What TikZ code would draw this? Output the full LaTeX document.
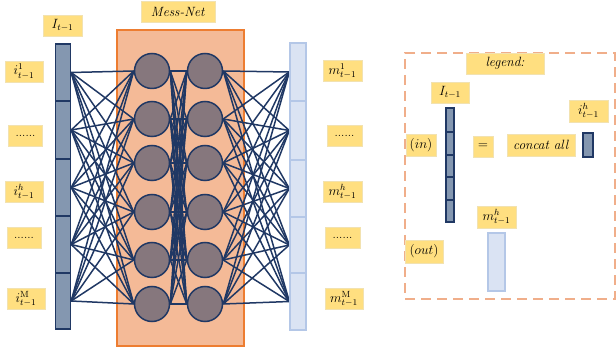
\documentclass[tikz,border=0pt]{standalone}
\usepackage{graphicx}
\usepackage{amsmath}
\definecolor{navy}{HTML}{203864}
\definecolor{tagfill}{HTML}{FFDF80}
\definecolor{tagedge}{HTML}{F2E2B0}
\definecolor{netfill}{HTML}{F4BA97}
\definecolor{netedge}{HTML}{ED7D31}
\definecolor{neuron}{HTML}{86777D}
\definecolor{infill}{HTML}{8497B0}
\definecolor{outfill}{HTML}{DAE3F3}
\definecolor{outedge}{HTML}{B4C7E7}
\definecolor{legedge}{HTML}{F0AE8A}
\pgfdeclarelayer{netlayer}
\pgfdeclarelayer{linklayer}
\pgfsetlayers{netlayer,linklayer,main}
% label text, set a little larger than 12pt
\newcommand{\tagtxt}[1]{\scalebox{1.12}{#1}}
\tikzset{
  tag/.style={fill=tagfill, draw=tagedge, line width=0.6pt, inner sep=0pt,
    minimum height=21pt, font=\fontsize{12}{14}\selectfont},
  inseg/.style={fill=infill, draw=navy, line width=1.4pt, inner sep=0pt,
    minimum width=15pt},
  outseg/.style={fill=outfill, draw=outedge, line width=1.4pt, inner sep=0pt,
    minimum width=16pt},
  unit/.style={circle, fill=neuron, draw=navy, line width=1.5pt,
    minimum size=35pt, inner sep=0pt},
  link/.style={draw=navy, line width=1.5pt}
}
\begin{document}
\begin{tikzpicture}[x=1pt, y=-1pt]
\useasboundingbox (0,0) rectangle (616,352);

% Mess-Net block
\begin{pgfonlayer}{netlayer}
\node[fill=netfill, draw=netedge, line width=1.6pt, minimum width=127pt,
  minimum height=316pt, inner sep=0pt] (net) at (180.5,188) {};
\end{pgfonlayer}
\node[tag, minimum width=74pt] (netname) at (178,12) {\tagtxt{\textit{Mess-Net}}};

% input vector I_{t-1}
\node[tag, minimum width=39pt] (Iname) at (62.5,25.5) {\tagtxt{$I_{t-1}$}};
\node[inseg, minimum height=57pt] (in1) at (63,72.5) {};
\node[inseg, minimum height=58pt] (in2) at (63,130) {};
\node[inseg, minimum height=57pt] (in3) at (63,187.5) {};
\node[inseg, minimum height=57pt] (in4) at (63,244.5) {};
\node[inseg, minimum height=56pt] (in5) at (63,301) {};

% output vector
\node[outseg, minimum height=58pt] (out1) at (298,72) {};
\node[outseg, minimum height=59pt] (out2) at (298,130.5) {};
\node[outseg, minimum height=57pt] (out3) at (298,188.5) {};
\node[outseg, minimum height=56pt] (out4) at (298,245) {};
\node[outseg, minimum height=57pt] (out5) at (298,301.5) {};

% hidden units
\foreach \k/\yy in {1/71,2/119,3/163,4/212,5/260,6/304} {
  \node[unit] (a\k) at (152,\yy) {};
  \node[unit] (b\k) at (205,\yy) {};
}

% fully connected links, kept under the units
\begin{pgfonlayer}{linklayer}
\foreach \k in {1,...,6} {
  \foreach \j in {1,...,5} {
    \draw[link] (in\j.east) -- (a\k.west);
    \draw[link] (b\k.east) -- (out\j.west);
  }
  \foreach \j in {1,...,6} {
    \draw[link] (a\k.east) -- (b\j.west);
  }
}
\end{pgfonlayer}

% input labels
\node[tag, minimum width=38pt] (i1) at (24,71.5) {\tagtxt{$i^{1}_{t-1}$}};
\node[tag, minimum width=34pt] (idots1) at (25.5,135.5) {......};
\node[tag, minimum width=38pt] (ih) at (24,192) {\tagtxt{$i^{h}_{t-1}$}};
\node[tag, minimum width=34pt] (idots2) at (24,237.5) {......};
\node[tag, minimum width=38pt] (iM) at (26,299) {\tagtxt{$i^{\mathrm{M}}_{t-1}$}};

% output labels
\node[tag, minimum width=39pt] (m1) at (342.5,71) {\tagtxt{$m^{1}_{t-1}$}};
\node[tag, minimum width=35pt] (mdots1) at (344.5,136) {......};
\node[tag, minimum width=39pt] (mh) at (342.5,192) {\tagtxt{$m^{h}_{t-1}$}};
\node[tag, minimum width=35pt] (mdots2) at (342.5,237.5) {......};
\node[tag, minimum width=38pt] (mM) at (344,299) {\tagtxt{$m^{\mathrm{M}}_{t-1}$}};

% legend
\node[draw=legedge, line width=2pt, dash pattern=on 10pt off 6pt,
  minimum width=210pt, minimum height=246pt, inner sep=0pt] (legbox) at (510,176) {};
\node[tag, minimum width=78pt] (legname) at (505,63.5) {\tagtxt{\textit{legend:}}};
\node[tag, minimum width=38pt] (legI) at (450,92.5) {\tagtxt{$I_{t-1}$}};
\foreach \k/\yy/\hh in {1/120/24,2/143.5/23,3/166/22,4/188.5/23,5/211/22} {
  \node[inseg, minimum width=8pt, minimum height=\hh pt, line width=1.1pt] (ls\k) at (450,\yy) {};
}
\node[tag, minimum width=30pt, minimum height=22pt] (legin) at (421,145) {\tagtxt{$(in)$}};
\node[tag, minimum width=20pt] (legeq) at (483,146.5) {\tagtxt{$=$}};
\node[tag, minimum width=68pt, minimum height=22pt] (legcat) at (541,145) {\tagtxt{\textit{concat all}}};
\node[inseg, minimum width=10pt, minimum height=24pt, line width=1.1pt] (legseg) at (588,145) {};
\node[tag, minimum width=39pt, minimum height=22pt] (legih) at (588.5,111) {\tagtxt{$i^{h}_{t-1}$}};
\node[tag, minimum width=39pt, minimum height=22pt] (legmh) at (496.5,217) {\tagtxt{$m^{h}_{t-1}$}};
\node[outseg, minimum width=17pt, minimum height=58pt, line width=1.1pt] (legout) at (496.5,262) {};
\node[tag, minimum width=38pt, minimum height=23pt] (legoutname) at (424,251.5) {\tagtxt{$(out)$}};
\end{tikzpicture}
\end{document}
